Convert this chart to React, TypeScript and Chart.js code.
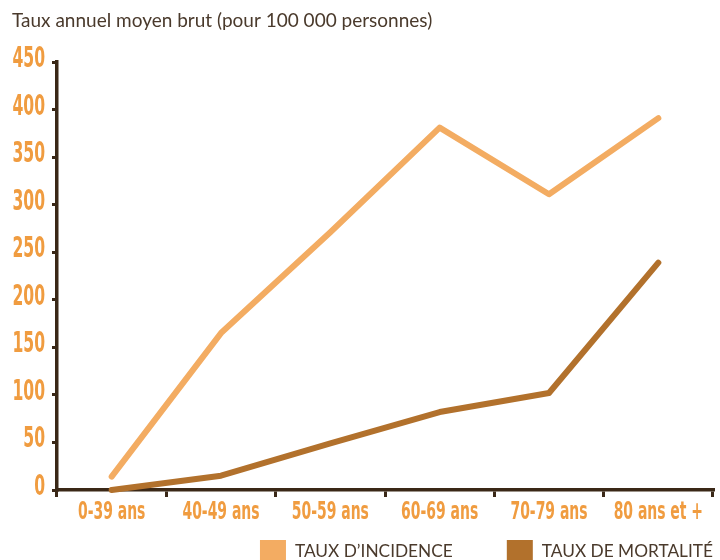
import React, { useEffect, useRef } from "react";
import { Chart, registerables } from "chart.js";
Chart.register(...registerables);

const categories = ["0-39 ans", "40-49 ans", "50-59 ans", "60-69 ans", "70-79 ans", "80 ans et +"];
const incidence = [14, 165, 271, 381, 311, 391];
const mortalite = [0, 15, 49, 82, 102, 239];
const yTicks = [0, 50, 100, 150, 200, 250, 300, 350, 400, 450];
const seriesNames = ["TAUX D\u2019INCIDENCE", "TAUX DE MORTALIT\u00c9"];
const titleText = "Taux annuel moyen brut (pour 100 000 personnes)";

const ORANGE = "#F09C40";
const INC = "#F3AC62";
const MORT = "#B2712C";
const BROWN = "#3A2817";
const TEXT = "#4A3A2C";
const COND = '"DejaVu Sans Condensed", "DejaVu Sans", sans-serif';
const SQUEEZE = 0.62;

const textPlugin = {
  id: "customText",
  afterDraw(chart: any) {
    const ctx = chart.ctx;
    const xs = chart.scales.x;
    const ys = chart.scales.y;
    const area = chart.chartArea;
    ctx.save();
    // y tick labels (condensed)
    ctx.fillStyle = ORANGE;
    ctx.font = `bold 28px ${COND}`;
    ctx.textAlign = "right";
    ctx.textBaseline = "alphabetic";
    ys.ticks.forEach((t: any, i: number) => {
      const y = ys.getPixelForTick(i);
      ctx.save();
      ctx.translate(area.left - 12, y + 5);
      ctx.scale(SQUEEZE, 1);
      ctx.fillText(String(t.label ?? t.value), 0, 0);
      ctx.restore();
    });
    // x tick labels (condensed)
    ctx.font = `bold 25px ${COND}`;
    ctx.textAlign = "center";
    xs.ticks.forEach((t: any, i: number) => {
      const x = xs.getPixelForTick(i);
      ctx.save();
      ctx.translate(x, area.bottom + 29);
      ctx.scale(SQUEEZE, 1);
      ctx.fillText(categories[t.value] ?? String(t.label), 0, 0);
      ctx.restore();
    });
    // title
    ctx.fillStyle = TEXT;
    ctx.font = "19px Lato";
    ctx.textAlign = "left";
    ctx.fillText(titleText, 12, 27);
    // legend (right aligned)
    ctx.font = "17.3px Lato";
    const ds = chart.data.datasets;
    const right = 713;
    const w2 = ctx.measureText(ds[1].label).width;
    const t2x = right - w2;
    const b2x = t2x - 9 - 26;
    const w1 = ctx.measureText(ds[0].label).width;
    const t1x = b2x - 54 - w1;
    const b1x = t1x - 9 - 26;
    const boxTop = 540;
    ctx.fillStyle = ds[0].borderColor;
    ctx.fillRect(b1x, boxTop, 26, 20);
    ctx.fillStyle = ds[1].borderColor;
    ctx.fillRect(b2x, boxTop, 26, 20);
    ctx.fillStyle = TEXT;
    ctx.fillText(ds[0].label, t1x, 557);
    ctx.fillText(ds[1].label, t2x, 557);
    ctx.restore();
  },
};

export default function App() {
  const ref = useRef<HTMLCanvasElement>(null);
  useEffect(() => {
    if (!ref.current) return;
    const chart = new Chart(ref.current, {
      type: "line",
      data: {
        labels: categories,
        datasets: [
          { label: seriesNames[0], data: incidence, borderColor: INC, backgroundColor: INC, borderWidth: 6, pointRadius: 0, borderCapStyle: "round", borderJoinStyle: "round", clip: 10 },
          { label: seriesNames[1], data: mortalite, borderColor: MORT, backgroundColor: MORT, borderWidth: 6, pointRadius: 0, borderCapStyle: "round", borderJoinStyle: "round", clip: 10 },
        ],
      },
      options: {
        animation: false,
        responsive: false,
        layout: { padding: { left: 0, right: 7, top: 62, bottom: 70 } },
        plugins: {
          tooltip: { enabled: false },
          title: { display: false },
          legend: { display: false },
        },
        scales: {
          x: {
            offset: true,
            afterFit: (s: any) => { s.height = 0; },
            grid: { offset: true, drawOnChartArea: false, drawTicks: true, tickLength: 7, color: BROWN, lineWidth: 3 },
            border: { color: BROWN, width: 3.5 },
            ticks: { display: false, autoSkip: false, maxRotation: 0 },
          },
          y: {
            min: 0,
            max: 450,
            afterFit: (s: any) => { s.width = 57; },
            afterBuildTicks: (s: any) => { s.ticks = yTicks.map((v) => ({ value: v })); },
            grid: { drawOnChartArea: false, drawTicks: true, tickLength: 5, color: BROWN, lineWidth: 3 },
            border: { color: BROWN, width: 3.5 },
            ticks: { display: false },
          },
        },
      },
      plugins: [textPlugin],
    });
    return () => chart.destroy();
  }, []);
  return (
    <div style={{ position: "fixed", left: 0, top: 0, width: 720, height: 560, background: "#fff" }}>
      <canvas ref={ref} width={720} height={560} />
    </div>
  );
}
